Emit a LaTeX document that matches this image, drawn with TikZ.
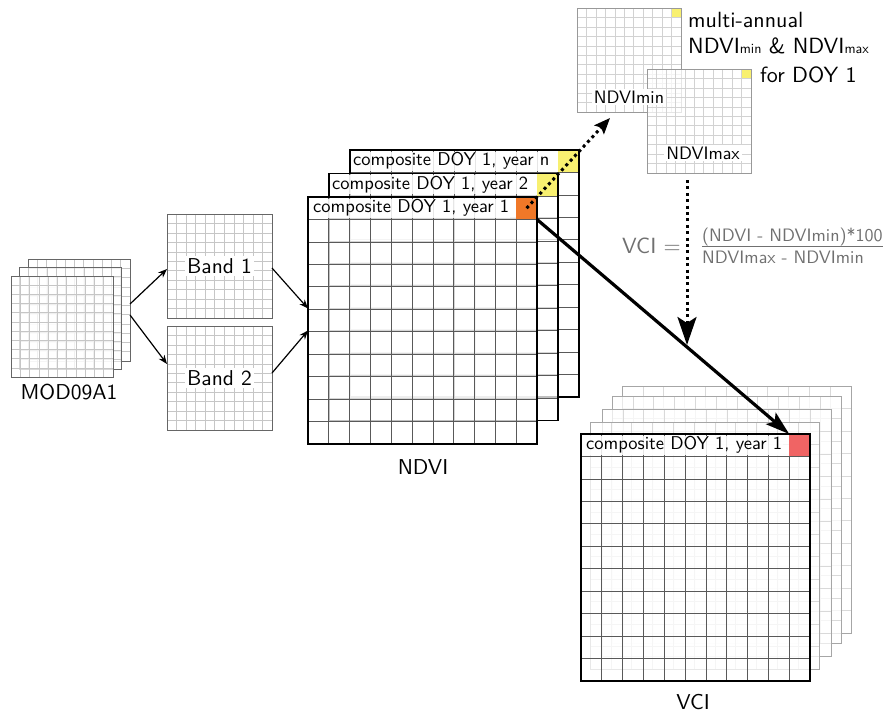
\documentclass[tikz,border=0pt]{standalone}
\usepackage{fontspec}
\setsansfont{lmsans10-regular.otf}
\usetikzlibrary{arrows.meta,calc}
\definecolor{cyel}{HTML}{F8F070}
\definecolor{corg}{HTML}{F07828}
\definecolor{cred}{HTML}{F06464}
\definecolor{cgry}{HTML}{707070}
\newcommand\gridbox[6]{%
  \node[layerbg, minimum width=#4pt, minimum height=#5pt, anchor=north west] (#1) at (#2,#3) {};
  \foreach \k in {1,...,10}{
    \draw[#6grid] ($(#1.north west)!\k/11!(#1.north east)$) -- ($(#1.south west)!\k/11!(#1.south east)$);
    \draw[#6grid] ($(#1.north west)!\k/11!(#1.south west)$) -- ($(#1.north east)!\k/11!(#1.south east)$);
  }%
}
\newcommand\borderof[2]{\draw[#2border] (#1.north west) rectangle (#1.south east);}
\tikzset{
  layerbg/.style={fill=white, fill opacity=0.75, inner sep=0pt, outer sep=0pt},
  finegrid/.style={draw=gray!45, line width=0.6pt},
  fineborder/.style={draw=black!60, line width=1pt},
  lightgrid/.style={draw=gray!35, line width=0.6pt},
  lightborder/.style={draw=gray!80, line width=1pt},
  maingrid/.style={draw=black!65, line width=0.7pt},
  mainborder/.style={draw=black, line width=1.3pt},
  backgrid/.style={draw=gray!30, line width=0.6pt},
  backborder/.style={draw=gray!70, line width=1pt},
  bigcell/.style={inner sep=0pt, outer sep=0pt, minimum width=20.82pt, minimum height=22.45pt, anchor=north east},
  smallcell/.style={inner sep=0pt, outer sep=0pt, minimum width=9.45pt, minimum height=9.45pt, anchor=north east, fill=cyel},
  lbl/.style={font=\sffamily\fontsize{21.5}{24}\selectfont, inner sep=1pt},
  toplbl/.style={font=\sffamily\fontsize{22}{24}\selectfont, inner sep=0pt, anchor=base west},
  hdr/.style={font=\sffamily\fontsize{18.5}{20}\selectfont, fill=white, fill opacity=0.85, text opacity=1, inner sep=1pt, anchor=west},
  inlbl/.style={font=\sffamily\fontsize{18}{20}\selectfont, fill=white, inner sep=2pt},
  fml/.style={font=\sffamily\fontsize{22}{24}\selectfont, text=cgry, inner sep=0pt},
  fmls/.style={font=\sffamily\fontsize{18}{20}\selectfont, text=cgry, inner sep=0pt},
  thinarrow/.style={draw=black, line width=1.2pt, -{Stealth[length=9pt,width=7pt]}},
  thickarrow/.style={draw=black, line width=3.2pt, -{Stealth[length=24pt,width=15pt,inset=5pt]}},
  dotarrow/.style={draw=black, line width=3pt, dash pattern=on 3pt off 3.4pt},
}
\begin{document}
\begin{tikzpicture}[x=1pt, y=-1pt]
\useasboundingbox (0,0) rectangle (885,715);

% MOD09A1 stack
\gridbox{mod3}{28}{259}{102}{102}{fine}\borderof{mod3}{fine}
\gridbox{mod2}{19}{267}{102}{102}{fine}\borderof{mod2}{fine}
\gridbox{mod1}{11}{276}{102}{101}{fine}\borderof{mod1}{fine}
\node[lbl] (modlbl) at (69,392) {MOD09A1};

% Bands
\gridbox{band1}{167}{214}{105}{104}{fine}\borderof{band1}{fine}
\node[lbl, fill=white, inner sep=2pt] (b1lbl) at (band1.center) {Band 1};
\gridbox{band2}{167}{326}{105}{104}{fine}\borderof{band2}{fine}
\node[lbl, fill=white, inner sep=2pt] (b2lbl) at (band2.center) {Band 2};

% NDVI stack
\gridbox{ndvi3}{350}{150}{229}{247}{main}
\node[bigcell, fill=cyel] (yel3) at (ndvi3.north east) {};
\borderof{ndvi3}{main}
\node[hdr] (h3) at ($(ndvi3.north west)+(2,11.2)$) {composite DOY 1, year n};
\gridbox{ndvi2}{329}{173.5}{229}{247}{main}
\node[bigcell, fill=cyel] (yel2) at (ndvi2.north east) {};
\borderof{ndvi2}{main}
\node[hdr] (h2) at ($(ndvi2.north west)+(2,11.2)$) {composite DOY 1, year 2};
\gridbox{ndvi1}{308}{197}{229}{247}{main}
\node[bigcell, fill=corg] (orgcell) at (ndvi1.north east) {};
\borderof{ndvi1}{main}
\node[hdr] (h1) at ($(ndvi1.north west)+(4,11.2)$) {composite DOY 1, year 1};
\node[lbl] (ndvilbl) at (423,467) {NDVI};

% NDVImin / NDVImax
\gridbox{ndvimin}{577}{8}{104}{104}{light}
\node[smallcell] (ymin) at (ndvimin.north east) {};
\borderof{ndvimin}{light}
\gridbox{ndvimax}{647}{69}{104}{104}{light}
\node[smallcell] (ymax) at (ndvimax.north east) {};
\borderof{ndvimax}{light}
\node[inlbl] (minlbl) at ($(ndvimin.south)+(0,-15)$) {NDVImin};
\node[inlbl] (maxlbl) at ($(ndvimax.south)+(4,-20)$) {NDVImax};

\node[toplbl] (t1) at (688,27) {multi-annual};
\node[toplbl] (t2) at (688,53) {NDVI{\fontsize{14}{16}\selectfont min} \& NDVI{\fontsize{14}{16}\selectfont max}};
\node[toplbl] (t3) at (760,82) {for DOY 1};

% VCI formula
\node[fml, anchor=base east] (vcieq) at (681,253) {VCI =};
\node[fmls, anchor=base west] (num) at (702,241) {(NDVI - NDVImin)*100};
\node[fmls, anchor=base west] (den) at (702,263) {NDVImax - NDVImin};
\draw[cgry, line width=1pt] ([yshift=-1pt]num.south west) -- ([yshift=-1pt]num.south east);

% VCI stack
\gridbox{vci5}{622}{386}{229}{247}{back}\borderof{vci5}{back}
\gridbox{vci4}{612}{396}{229}{247}{back}\borderof{vci4}{back}
\gridbox{vci3}{602}{409}{229}{247}{back}\borderof{vci3}{back}
\gridbox{vci2}{590}{422}{229}{247}{back}\borderof{vci2}{back}
\gridbox{vci1}{581}{434}{229}{247}{main}
\node[bigcell, fill=cred] (redcell) at (vci1.north east) {};
\borderof{vci1}{main}
\node[hdr] (hv) at ($(vci1.north west)+(4,11.2)$) {composite DOY 1, year 1};
\node[lbl] (vcilbl) at (693,702) {VCI};

% connectors
\draw[thinarrow] ([yshift=6pt]mod3.east) -- ([yshift=-3pt]band1.west);
\draw[thinarrow] ([yshift=-5pt]mod3.east) -- ([yshift=14pt]band2.west);
\draw[thinarrow] ([yshift=-2pt]band1.east) -- ([yshift=12pt]ndvi1.west);
\draw[thinarrow] ([yshift=5pt]band2.east) -- ([yshift=-10pt]ndvi1.west);

\draw[thickarrow] (orgcell.south east) -- (redcell.north west);
\draw[dotarrow, -{Stealth[length=16pt,width=13pt,inset=3pt]}] (orgcell.center) -- ([xshift=33pt,yshift=-6pt]ndvimin.south west);
\coordinate (vcitip) at (687,345);
\draw[dotarrow, -{Stealth[length=28pt,width=19pt,inset=6pt]}] ([xshift=-12pt,yshift=-7pt]ndvimax.south) -- (vcitip);
\end{tikzpicture}
\end{document}
